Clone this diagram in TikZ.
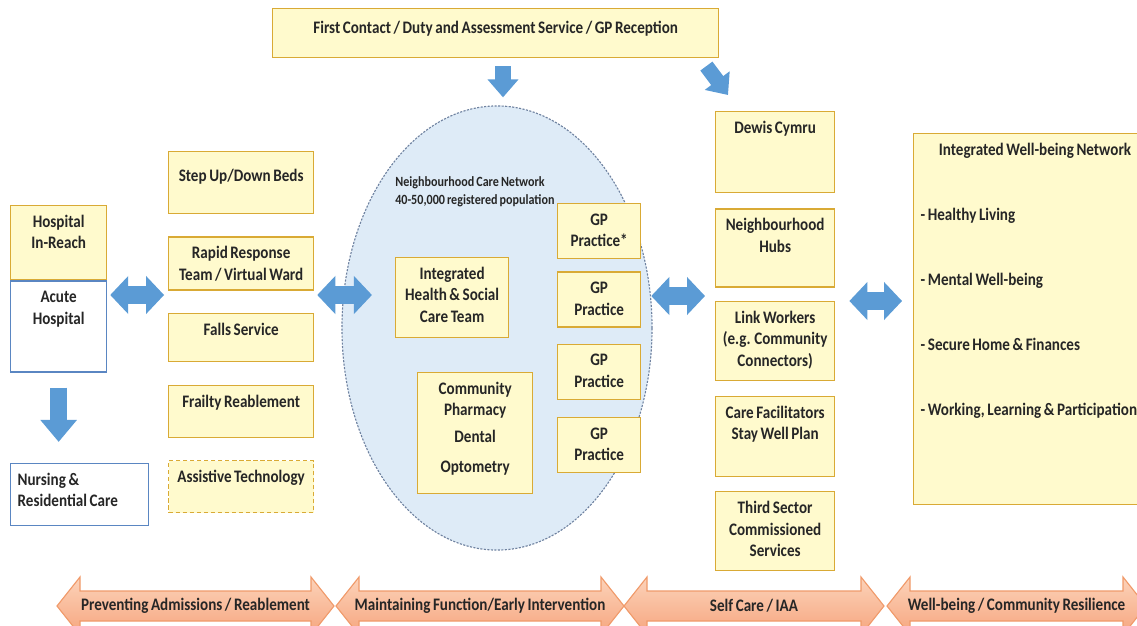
\documentclass[tikz,border=0pt]{standalone}
\usepackage{fontspec}
\setmainfont{Carlito}[FakeStretch=0.86, WordSpace=0.75]
\usetikzlibrary{shapes.geometric,arrows.meta,positioning}

\definecolor{boxfill}{HTML}{FFFACD}
\definecolor{boxline}{HTML}{D9AA35}
\definecolor{hospline}{HTML}{5A86C2}
\definecolor{netfill}{HTML}{DEEBF7}
\definecolor{netline}{HTML}{6F82A0}
\definecolor{arrowblue}{HTML}{5B9BD5}
\definecolor{bandtop}{HTML}{FCD3BA}
\definecolor{bandbot}{HTML}{F6A57E}
\definecolor{bandline}{HTML}{F09A6A}

\begin{document}
\begin{tikzpicture}[
    x=0.025cm, y=-0.025cm,
    node distance=0.55cm,
    font=\fontsize{12.5}{15.3}\selectfont\bfseries,
    wh/.style 2 args={/utils/exec={\pgfmathsetlengthmacro\boxw{#1*0.7113pt-6pt}\pgfmathsetlengthmacro\boxd{#2*0.7113pt-19.5pt}}, text width=\boxw, text depth=\boxd},
    service/.style={rectangle, draw=boxline, fill=boxfill, line width=0.9pt, align=flush center, inner xsep=3pt, inner ysep=4pt, text height=11.5pt, text=black!85},
    hospital/.style={service, draw=hospline, fill=white},
    twoway/.style={draw=arrowblue, line width=12.8pt, >={Triangle[length=12.8pt, width=26.3pt]}, <->},
    flow/.style={draw=arrowblue, line width=10.7pt, -{Triangle[length=12.8pt, width=21.3pt]}},
    band/.style={draw=bandline, line width=0.8pt, top color=bandtop, bottom color=bandbot},
    bandtext/.style={inner sep=0pt, text=black!85}
]
\useasboundingbox (0,0) rectangle (1137,625);
\clip (0,0) rectangle (1137,625);

% Entry point
\node[service, wh={446}{46}, text height=13.5pt, anchor=north west] (contact) at (272,8) {First Contact / Duty and Assessment Service / GP Reception};

% Hospital side
\node[service, wh={96}{74}, anchor=north west] (inreach) at (10,205) {Hospital\\In-Reach};
\node[hospital, wh={96}{91}, below=0pt of inreach] (acute) {Acute\\Hospital};
\node[hospital, wh={132}{62}, anchor=north west, align=flush left, inner xsep=5pt] (nursing) at (10,463) {Nursing \&\\Residential Care};

% Step up / down services
\node[service, wh={145}{62}, text height=17.5pt, text depth=18.6pt, anchor=north west] (stepup) at (168,151) {Step Up/Down Beds};
\node[service, wh={145}{53}, below=of stepup] (rapid) {Rapid Response\\Team / Virtual Ward};
\node[service, wh={145}{48}, below=of rapid] (falls) {Falls Service};
\node[service, wh={145}{52}, below=0.575cm of falls] (frailty) {Frailty Reablement};
\node[service, wh={145}{52}, dash pattern=on 3pt off 2pt, below=of frailty] (assistive) {Assistive Technology};

% Neighbourhood care network
\node[ellipse, draw=netline, fill=netfill, line width=0.8pt, dash pattern=on 1.5pt off 1pt, minimum width=7.75cm, minimum height=11.1cm] (ncn) at (497,328) {};
\node[anchor=west, align=flush left, inner sep=0pt, font=\fontsize{10}{12.8}\selectfont\bfseries, text=black!85] (ncnlabel) at (395,192) {Neighbourhood Care Network\\40-50,000 registered population};
\node[service, wh={113}{80}, anchor=north west] (ihsc) at (395,257) {Integrated\\Health \& Social\\Care Team};
\node[service, wh={115}{121}, anchor=north west] (pharmacy) at (417,372) {Community\\Pharmacy\\[3.5pt]Dental\\[6pt]Optometry};
\node[service, wh={83}{55}, anchor=north west] (gp1) at (557,203) {GP\\Practice*};
\node[service, wh={83}{55}, below=0.3cm of gp1] (gp2) {GP\\Practice};
\node[service, wh={83}{55}, below=0.4cm of gp2] (gp3) {GP\\Practice};
\node[service, wh={83}{55}, below=0.425cm of gp3] (gp4) {GP\\Practice};

% Self care column
\node[service, wh={119}{81}, anchor=north west] (dewis) at (715,111) {Dewis Cymru};
\node[service, wh={119}{78}, below=0.375cm of dewis] (hubs) {Neighbourhood\\Hubs};
\node[service, wh={119}{79}, below=0.325cm of hubs] (linkwork) {Link Workers\\(e.g. Community\\Connectors)};
\node[service, wh={119}{80}, below=0.375cm of linkwork] (carefac) {Care Facilitators\\Stay Well Plan};
\node[service, wh={119}{79}, below=0.35cm of carefac] (thirdsec) {Third Sector\\Commissioned\\Services};

% Well-being network
\node[service, wh={237}{371}, anchor=north west, align=flush left, inner xsep=5pt] (wellbeing) at (913,133) {\makebox[\linewidth]{Integrated Well-being Network}\\[31pt]- Healthy Living\\[31pt]- Mental Well-being\\[31pt]- Secure Home \& Finances\\[31pt]- Working, Learning \& Participation};

% Bottom bands
\foreach \l/\r/\txt [count=\i] in {57/334/{Preventing Admissions / Reablement}, 336/624/{Maintaining Function/Early Intervention}, 624/884/{Self Care / IAA}, 887/1146/{Well-being / Community Resilience}} {
  \draw[band] (\l,606) -- (\l+23,577) -- (\l+23,591) -- (\r-23,591) -- (\r-23,577) -- (\r,606) -- (\r-23,635) -- (\r-23,621) -- (\l+23,621) -- (\l+23,635) -- cycle;
  \node[bandtext] (band\i) at ({(\l+\r)/2},606) {\txt};
}

% Arrows
\coordinate (lane) at (0,295);
\coordinate (lane2) at (0,296);
\coordinate (lane3) at (0,301);
\coordinate (drop) at (503,0);
\draw[twoway, shorten <=2.1pt, shorten >=2.8pt] (acute.east |- lane) -- (rapid.west |- lane);
\draw[twoway, shorten <=2.1pt, shorten >=16.4pt] (rapid.east |- lane) -- (ihsc.west |- lane);
\draw[twoway, shorten <=7.1pt, shorten >=7.1pt] (gp2.east |- lane2) -- (linkwork.west |- lane2);
\draw[twoway, shorten <=10pt, shorten >=7.8pt] (linkwork.east |- lane3) -- (wellbeing.west |- lane3);
\draw[flow, shorten <=5.7pt, shorten >=5.7pt] (contact.south -| drop) -- (ncn.north -| drop);
\draw[flow] ([shift={(-13,8)}]contact.south east) -- ([shift={(13,-16)}]dewis.north west);
\draw[twoway, line width=12pt, >={Triangle[length=15.6pt, width=25pt]}, ->, shorten <=10.7pt, shorten >=15pt] (acute.south) -- (acute.south |- nursing.north);

\end{tikzpicture}
\end{document}
